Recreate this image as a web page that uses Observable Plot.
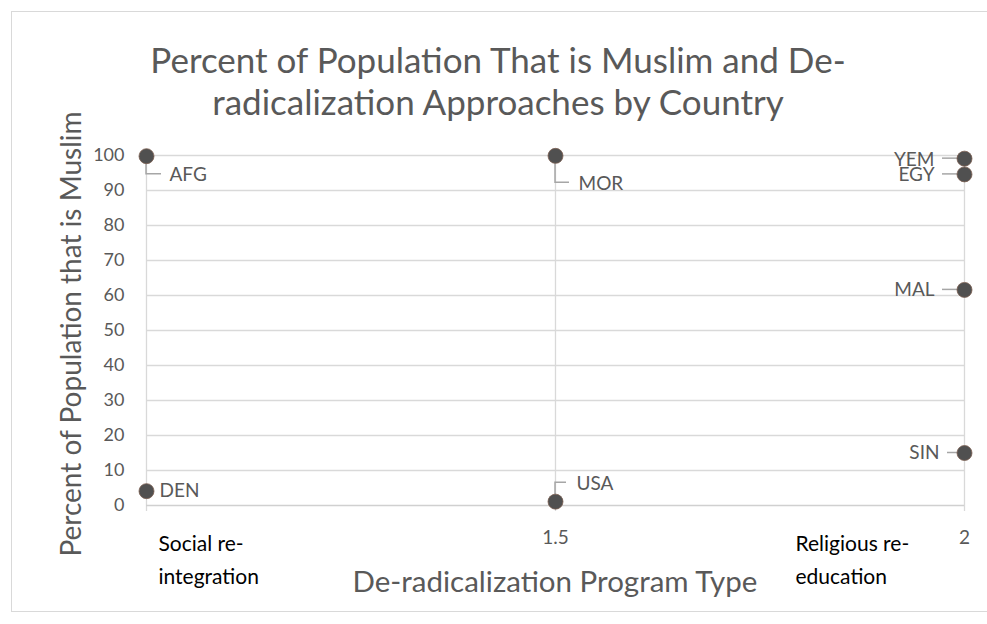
<!DOCTYPE html>
<html><head><meta charset="utf-8">
<script src="https://cdn.jsdelivr.net/npm/d3@7"></script>
<script src="https://cdn.jsdelivr.net/npm/@observablehq/plot@0.6"></script>
<style>
body{margin:0;background:#fff;font-family:Lato,"Open Sans",sans-serif;}
#wrap{position:relative;width:987px;height:624px;overflow:hidden;background:#fff;}
#border{position:absolute;left:11px;top:11px;width:990px;height:601px;border:1px solid #d9d9d9;box-sizing:border-box;}
#title{position:absolute;left:0;top:38px;width:996px;text-align:center;font-size:35px;line-height:42px;color:#595959;}
#ytitle{position:absolute;left:70px;top:334px;transform:translate(-50%,-50%) rotate(-90deg);white-space:nowrap;font-size:28px;color:#595959;}
#xtitle{position:absolute;left:555px;top:580px;transform:translate(-50%,-50%);white-space:nowrap;font-size:29.5px;color:#595959;}
#chart{position:absolute;left:0;top:0;}
</style></head>
<body>
<div id="wrap">
  <div id="border"></div>
  <div id="chart"></div>
  <div id="title">Percent of Population That is Muslim and De-<br>radicalization Approaches by Country</div>
  <div id="ytitle">Percent of Population that is Muslim</div>
  <div id="xtitle">De-radicalization Program Type</div>
</div>
<script>
// ---- data ----
const codes = ["AFG", "MOR", "YEM", "EGY", "MAL", "SIN", "DEN", "USA"];
const programType = [1, 1.5, 2, 2, 2, 2, 1, 1.5];
const pctMuslim = [99.8, 99.9, 99.1, 94.6, 61.6, 15, 4.1, 1.1];
const xTickLabels = [1.5, 2];
const yTicks = [0, 10, 20, 30, 40, 50, 60, 70, 80, 90, 100];
const categoryValues = [1, 2];
const categoryNames = ["Social re-\nintegration", "Religious re-\neducation"];

// ---- styles / label placement (pixels) ----
const placement = {
  AFG: {dx: 23, dy: 19, anchor: "start", leader: [[0, 0], [0, 18], [15, 18]]},
  MOR: {dx: 23, dy: 28, anchor: "start", leader: [[0, 0], [0, 27], [14, 27]]},
  USA: {dx: 21, dy: -18, anchor: "start", leader: [[0, 0], [0, -19], [11, -19]]},
  DEN: {dx: 13, dy: 0, anchor: "start", leader: null},
  YEM: {dx: -30, dy: 1, anchor: "end", leader: [[-22, 0], [0, 0]]},
  EGY: {dx: -30, dy: 1, anchor: "end", leader: [[-22, 0], [0, 0]]},
  MAL: {dx: -30, dy: 0, anchor: "end", leader: [[-22, 0], [0, 0]]},
  SIN: {dx: -25, dy: 0, anchor: "end", leader: [[-17, 0], [0, 0]]}
};
const categoryDx = [12, -169];

const points = codes.map((c, i) => ({code: c, x: programType[i], y: pctMuslim[i]}));
const cats = categoryValues.map((v, i) => ({x: v, label: categoryNames[i]}));

const leaderMark = (index, scales) => {
  const g = d3.create("svg:g").attr("fill", "none").attr("stroke", "#a6a6a6").attr("stroke-width", 1.5);
  points.forEach(p => {
    const pl = placement[p.code];
    if (!pl.leader) return;
    const px = scales.x(p.x), py = scales.y(p.y);
    g.append("path").attr("d", d3.line()(pl.leader.map(([a, b]) => [px + a, py + b])));
  });
  return g.node();
};

const plot = Plot.plot({
  width: 987,
  height: 624,
  marginLeft: 146,
  marginRight: 23,
  marginTop: 155,
  marginBottom: 119,
  style: {fontFamily: "Lato, 'Open Sans', sans-serif", background: "transparent", overflow: "visible"},
  x: {domain: [1, 2]},
  y: {domain: [0, 100]},
  marks: [
    Plot.ruleY(yTicks.filter(d => d > 0), {stroke: "#d9d9d9", strokeWidth: 1.3}),
    Plot.ruleX([1, 1.5, 2], {y1: 0, y2: 100, stroke: "#d9d9d9", strokeWidth: 1.3}),
    Plot.axisX({ticks: [1, 1.5, 2], tickSize: 6, tickFormat: () => "", stroke: "#d9d9d9", strokeWidth: 1.3, label: null}),
    Plot.ruleY([0], {stroke: "#d0d0d0", strokeWidth: 1.3}),
    Plot.axisY({ticks: yTicks, tickSize: 0, tickPadding: 22, fontSize: 18, color: "#595959", label: null}),
    Plot.axisX({ticks: xTickLabels, tickSize: 0, tickPadding: 25, fontSize: 19, color: "#595959", label: null, tickFormat: d => `${d}`}),
    ...cats.map((c, i) => Plot.text([c], {x: "x", text: "label", frameAnchor: "bottom", dy: 22, dx: categoryDx[i], textAnchor: "start", lineAnchor: "top", lineHeight: 1.57, fontSize: 21, fill: "#000"})),
    leaderMark,
    Plot.dot(points, {x: "x", y: "y", r: 7.5, fill: "#505050", stroke: "#7b5e50", strokeWidth: 0.8}),
    ...points.map(p => {
      const pl = placement[p.code];
      return Plot.text([p], {x: "x", y: "y", text: "code", dx: pl.dx, dy: pl.dy, textAnchor: pl.anchor, fontSize: 19, fill: "#595959"});
    })
  ]
});
document.getElementById("chart").appendChild(plot);
</script>
</body></html>
